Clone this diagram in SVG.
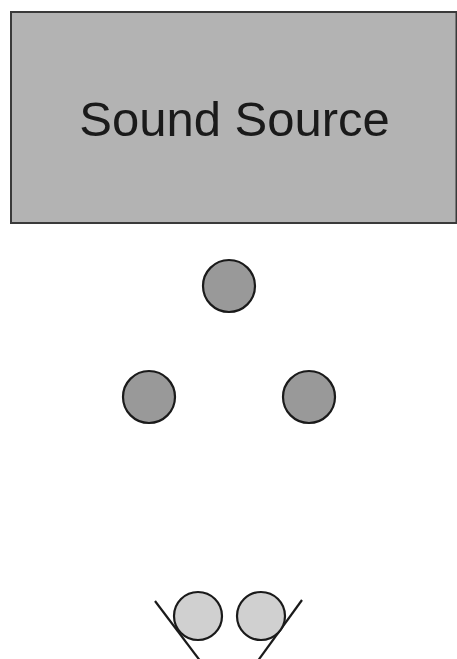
<svg xmlns="http://www.w3.org/2000/svg" width="457" height="659" viewBox="0 0 457 659">
  <style>
    .src { fill: #b3b3b3; stroke: #3a3a3a; stroke-width: 2; }
    .label { font-family: "Liberation Sans", Arial, sans-serif; font-size: 49px; fill: #1a1a1a; text-anchor: middle; }
    .mic { fill: #999999; stroke: #1a1a1a; stroke-width: 2.2; }
    .ear { fill: #d0d0d0; stroke: #1a1a1a; stroke-width: 2.2; }
    .shoulder { stroke: #1a1a1a; stroke-width: 2.2; fill: none; }
  </style>
  <rect width="457" height="659" fill="#ffffff"/>

  <!-- sound source box -->
  <g id="source">
    <rect class="src" x="11" y="12" width="445.5" height="211"/>
    <text class="label" x="234.5" y="136">Sound Source</text>
  </g>

  <!-- microphone array -->
  <g id="mic-top"><circle class="mic" cx="229" cy="286" r="26"/></g>
  <g id="mic-left"><circle class="mic" cx="149" cy="397" r="26"/></g>
  <g id="mic-right"><circle class="mic" cx="309" cy="397" r="26"/></g>

  <!-- listener head -->
  <g id="listener">
    <line class="shoulder" x1="155" y1="601" x2="201" y2="662"/>
    <line class="shoulder" x1="302" y1="600" x2="257" y2="662"/>
    <circle class="ear" cx="198" cy="616" r="24"/>
    <circle class="ear" cx="261" cy="616" r="24"/>
  </g>
</svg>
